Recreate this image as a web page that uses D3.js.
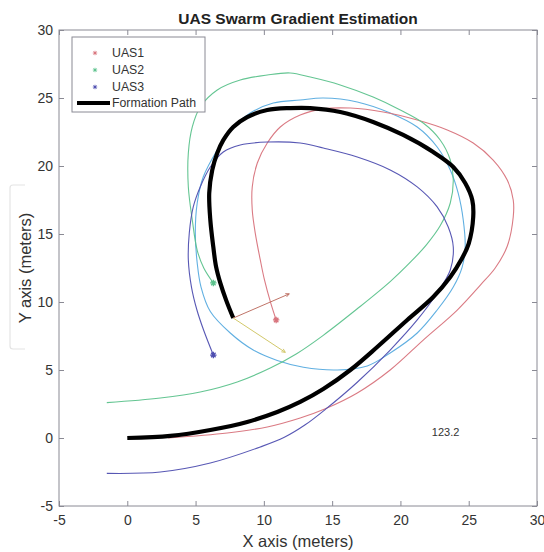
<!DOCTYPE html>
<html>
<head>
<meta charset="utf-8">
<script src="https://cdn.jsdelivr.net/npm/d3@7"></script>
<style>
  html, body { margin: 0; padding: 0; background: #fff; }
  svg { display: block; font-family: "Liberation Sans", Arial, sans-serif; }
</style>
</head>
<body>
<div id="chart"></div>
<script>
// ---------- data ----------
const xTicks = [-5, 0, 5, 10, 15, 20, 25, 30];
const yTicks = [-5, 0, 5, 10, 15, 20, 25, 30];

const formationPath = [
  [0,0],[3.15,0.15],[6.08,0.59],[8.78,1.18],[10.98,1.91],[12.66,2.65],[14.35,3.6],
  [16.33,5.0],[18.3,6.69],[20.5,8.68],[22.4,10.37],[23.65,11.84],[24.45,13.1],
  [25.0,14.3],[25.33,16.25],[25.26,17.5],[24.74,18.75],[23.87,19.93],[22.4,21.03],
  [20.2,22.28],[18.0,23.24],[15.6,23.97],[13.4,24.26],[11.93,24.26],[10.25,24.12],
  [8.78,23.6],[7.76,22.87],[7.03,21.9],[6.59,20.96],[6.22,19.7],[6.0,18.0],
  [6.08,16.03],[6.3,14.04],[6.5,12.6],[6.81,11.4],[7.25,10.1],[7.76,8.82]
];

const uas1Path = [
  [3,0],[7.32,0.37],[10.25,0.81],[12.66,1.47],[14.5,2.15],[16.84,3.31],[19.25,5.0],
  [21.67,7.2],[24.16,9.41],[25.9,11.3],[26.94,12.5],[27.82,14.1],[28.26,16.25],
  [28.26,17.5],[27.82,18.97],[26.79,20.44],[25.33,21.69],[23.43,22.65],[21.23,23.38],
  [18.74,23.97],[16.33,24.26],[14.35,24.2],[12.66,23.75],[11.2,22.87],[10.25,21.69],
  [9.52,20.22],[9.15,18.46],[9.15,16.76],[9.37,15.07],[9.74,13.09],[10.05,11.6],
  [10.5,9.93],[10.9,8.68]
];

const uas2Path = [
  [-1.5,2.6],[2.42,2.94],[5.34,3.38],[8.05,4.12],[10.47,5.15],[12.4,6.2],[14.35,7.55],
  [16.84,9.5],[19.25,11.5],[20.8,13.0],[21.9,14.2],[22.91,15.6],[23.65,17.28],
  [23.87,18.97],[23.65,20.44],[22.91,21.91],[21.67,23.16],[19.99,24.12],[18.0,25.07],
  [15.59,25.96],[13.4,26.54],[11.93,26.84],[10.25,26.69],[8.27,26.32],[6.59,25.59],
  [5.34,24.34],[4.76,22.87],[4.47,20.96],[4.47,18.46],[4.76,16.03],[5.12,13.8],
  [5.6,12.5],[6.3,11.4]
];

const uas3Path = [
  [-1.5,-2.6],[2.42,-2.5],[6.08,-1.84],[9.74,-0.66],[11.5,0.05],[13.0,0.95],
  [14.5,2.1],[16.84,4.1],[19.25,6.47],[21.23,8.68],[22.69,10.66],[23.65,12.35],[23.87,14.04],
  [23.5,15.51],[22.69,16.99],[21.23,18.46],[19.25,19.71],[16.84,20.66],[14.35,21.32],
  [12.66,21.69],[10.25,21.76],[8.27,21.54],[7.03,21.03],[6.08,19.93],[5.34,18.46],
  [4.83,16.99],[4.54,15.07],[4.47,13.09],[4.7,11.1],[5.1,9.41],[5.6,7.9],[6.3,6.1]
];

const contourPath = [
  [12.66,24.85],[10.69,24.63],[9.0,23.9],[7.76,22.87],[6.59,21.18],[5.56,19.19],
  [5.12,17.28],[4.98,15.07],[5.12,12.87],[5.4,11.1],[6.08,9.3],[7.54,7.72],
  [9.22,6.47],[10.98,5.7],[12.9,5.2],[15.37,5.0],[17.57,5.3],[19.25,6.25],
  [21.23,7.72],[22.69,9.41],[23.87,11.1],[24.52,12.57],[24.74,14.04],[24.6,16.03],
  [24.23,18.01],[23.65,19.71],[22.69,21.4],[21.23,22.87],[19.25,23.9],[16.84,24.71],
  [14.35,25.0]
];
const contourLabel = { text: "123.2", x: 22.3, y: 0.45 };

// gradient arrows from formation end point
const gradOrigin = [7.76, 8.82];
const gradArrowTips = [[11.86, 10.6], [11.57, 6.3]];

const seriesNames = ["UAS1", "UAS2", "UAS3", "Formation Path"];
const seriesColors = ["#d8737c", "#5cc28c", "#4e4eb0", "#000000"];
const contourColor = "#4fa6de";
const arrowColors = ["#c07468", "#d2c86a"];

// ---------- layout ----------
const W = 544, H = 552;
const L = 59, R = 537, T = 30, B = 506;
const axisColor = "#8a8a94";
const textColor = "#333";

const svg = d3.select("#chart").append("svg")
  .attr("width", W).attr("height", H);
svg.append("rect").attr("width", W).attr("height", H).attr("fill", "#fff");

const x = d3.scaleLinear().domain([-5, 30]).range([L, R]);
const y = d3.scaleLinear().domain([-5, 30]).range([B, T]);

// faint bracket near the y label
svg.append("path")
  .attr("d", `M25,185 L13,185 Q10,185 10,188 L10,346 Q10,349 13,349 L25,349`)
  .attr("fill", "none").attr("stroke", "#e4e4e4").attr("stroke-width", 1.2);

// axes
function styleAxis(g, showLabels) {
  g.select(".domain").remove();
  g.selectAll(".tick line").attr("stroke", axisColor);
  g.selectAll(".tick text")
    .attr("fill", textColor)
    .attr("font-size", 14)
    .attr("font-family", "Liberation Sans, Arial, sans-serif")
    .style("display", showLabels ? null : "none");
}
const fmt = d => String(d);
svg.append("g").attr("transform", `translate(0,${B})`)
  .call(d3.axisBottom(x).tickValues(xTicks).tickFormat(fmt).tickSizeInner(-5).tickSizeOuter(0).tickPadding(9))
  .call(g => styleAxis(g, true));
svg.append("g").attr("transform", `translate(${L},0)`)
  .call(d3.axisLeft(y).tickValues(yTicks).tickFormat(fmt).tickSizeInner(-5).tickSizeOuter(0).tickPadding(6))
  .call(g => styleAxis(g, true));
svg.append("g").attr("transform", `translate(0,${T})`)
  .call(d3.axisTop(x).tickValues(xTicks).tickSizeInner(-5).tickSizeOuter(0))
  .call(g => styleAxis(g, false));
svg.append("g").attr("transform", `translate(${R},0)`)
  .call(d3.axisRight(y).tickValues(yTicks).tickSizeInner(-5).tickSizeOuter(0))
  .call(g => styleAxis(g, false));

svg.append("rect")
  .attr("x", L).attr("y", T).attr("width", R - L).attr("height", B - T)
  .attr("fill", "none").attr("stroke", axisColor).attr("stroke-width", 1);

// clip
svg.append("clipPath").attr("id", "clip")
  .append("rect").attr("x", L).attr("y", T).attr("width", R - L).attr("height", B - T);
const plot = svg.append("g").attr("clip-path", "url(#clip)");

const line = d3.line().x(d => x(d[0])).y(d => y(d[1])).curve(d3.curveCatmullRom.alpha(0.5));
const closedLine = d3.line().x(d => x(d[0])).y(d => y(d[1])).curve(d3.curveCatmullRomClosed.alpha(0.5));

// contour (level line)
plot.append("path").attr("d", closedLine(contourPath))
  .attr("fill", "none").attr("stroke", contourColor).attr("stroke-width", 1.1).attr("opacity", 0.9);

// UAS paths
const uasPaths = [uas1Path, uas2Path, uas3Path];
uasPaths.forEach((p, i) => {
  plot.append("path").attr("d", line(p))
    .attr("fill", "none").attr("stroke", seriesColors[i])
    .attr("stroke-width", 1.1).attr("opacity", 0.95);
});

// formation path
plot.append("path").attr("d", line(formationPath))
  .attr("fill", "none").attr("stroke", "#000").attr("stroke-width", 4.2)
  .attr("stroke-linecap", "butt").attr("stroke-linejoin", "round");

// gradient arrows
gradArrowTips.forEach((tip, i) => {
  const x0 = x(gradOrigin[0]), y0 = y(gradOrigin[1]);
  const x1 = x(tip[0]), y1 = y(tip[1]);
  plot.append("line").attr("x1", x0).attr("y1", y0).attr("x2", x1).attr("y2", y1)
    .attr("stroke", arrowColors[i]).attr("stroke-width", 1);
  const ang = Math.atan2(y1 - y0, x1 - x0);
  const hl = 4, ha = 0.45;
  plot.append("path")
    .attr("d", `M${x1 - hl * Math.cos(ang - ha)},${y1 - hl * Math.sin(ang - ha)} L${x1},${y1} L${x1 - hl * Math.cos(ang + ha)},${y1 - hl * Math.sin(ang + ha)}`)
    .attr("fill", "none").attr("stroke", arrowColors[i]).attr("stroke-width", 1);
});

// star marker helper
function star(g, cx, cy, r, color, w) {
  const d = `M${cx - r},${cy} L${cx + r},${cy} M${cx},${cy - r} L${cx},${cy + r}` +
    ` M${cx - r * 0.7},${cy - r * 0.7} L${cx + r * 0.7},${cy + r * 0.7}` +
    ` M${cx - r * 0.7},${cy + r * 0.7} L${cx + r * 0.7},${cy - r * 0.7}`;
  g.append("path").attr("d", d).attr("stroke", color).attr("stroke-width", w || 1).attr("fill", "none");
}
uasPaths.forEach((p, i) => {
  const e = p[p.length - 1];
  star(plot, x(e[0]), y(e[1]), 3.2, seriesColors[i], 1.3);
});

// contour label
svg.append("text").attr("x", x(contourLabel.x)).attr("y", y(contourLabel.y))
  .attr("dy", "0.35em").attr("font-size", 11).attr("fill", textColor)
  .text(contourLabel.text);

// legend
const lg = svg.append("g");
lg.append("rect").attr("x", 72).attr("y", 37).attr("width", 133).attr("height", 75)
  .attr("fill", "#fff").attr("stroke", axisColor).attr("stroke-width", 1);
const rowY = [53, 70, 87, 103];
seriesNames.forEach((name, i) => {
  if (i < 3) {
    star(lg, 95, rowY[i], 2.2, seriesColors[i], 0.9);
  } else {
    lg.append("line").attr("x1", 77).attr("x2", 110).attr("y1", rowY[i]).attr("y2", rowY[i])
      .attr("stroke", "#000").attr("stroke-width", 4.2);
  }
  lg.append("text").attr("x", 112).attr("y", rowY[i]).attr("dy", "0.35em")
    .attr("font-size", 12.3).attr("fill", textColor).text(name);
});

// titles
svg.append("text").attr("x", (L + R) / 2).attr("y", 19).attr("dy", "0.35em")
  .attr("text-anchor", "middle").attr("font-size", 15.5).attr("font-weight", "bold")
  .attr("fill", "#222").text("UAS Swarm Gradient Estimation");
svg.append("text").attr("x", (L + R) / 2).attr("y", 541).attr("dy", "0.35em")
  .attr("text-anchor", "middle").attr("font-size", 16.5).attr("fill", textColor)
  .text("X axis (meters)");
svg.append("text").attr("transform", `translate(25,${(T + B) / 2}) rotate(-90)`)
  .attr("dy", "0.35em").attr("text-anchor", "middle").attr("font-size", 16.5)
  .attr("fill", textColor).text("Y axis (meters)");
</script>
</body>
</html>
